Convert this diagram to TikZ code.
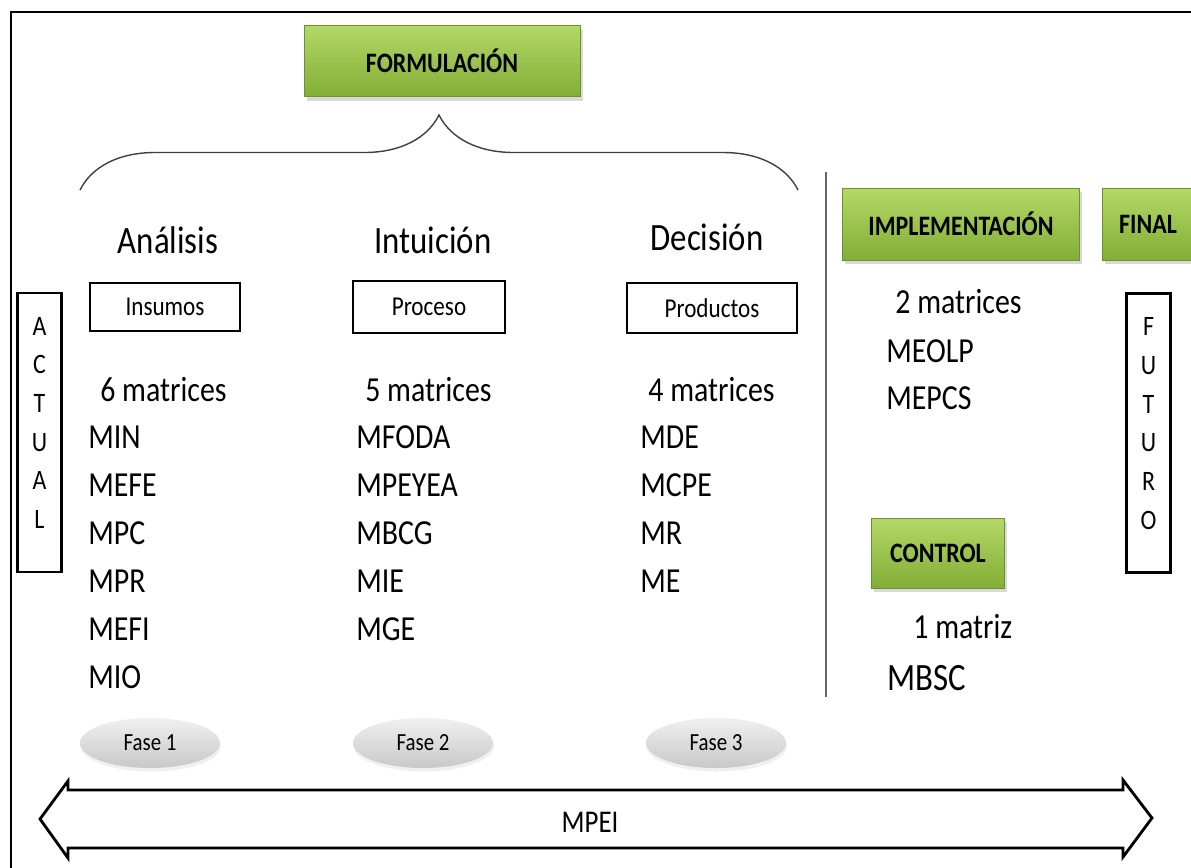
\documentclass[tikz,border=0pt]{standalone}
\usepackage{fontspec}
\setmainfont[FakeStretch=0.85]{Carlito}
\usetikzlibrary{shadows,shapes.geometric,decorations.pathreplacing}
\definecolor{verdearriba}{RGB}{180,216,104}
\definecolor{verdeabajo}{RGB}{130,174,54}
\definecolor{verdeborde}{RGB}{108,146,48}
\definecolor{grisarriba}{RGB}{240,240,240}
\definecolor{grisabajo}{RGB}{200,200,200}
\begin{document}
\begin{tikzpicture}[x=0.02cm,y=-0.02cm,
  etapa/.style={rectangle,draw=verdeborde,top color=verdearriba,bottom color=verdeabajo,
    drop shadow={opacity=0.3,shadow xshift=1.5pt,shadow yshift=-2.5pt},
    font=\fontsize{16}{19}\selectfont\bfseries},
  titulo/.style={font=\fontsize{22}{26}\selectfont},
  caja/.style={rectangle,draw,line width=1.6pt,font=\fontsize{15.5}{18}\selectfont},
  lista/.style={anchor=west,inner sep=0pt,font=\fontsize{20}{24}\selectfont},
  fase/.style={ellipse,top color=grisarriba,bottom color=grisabajo,
    minimum width=140*0.02cm,minimum height=50*0.02cm,
    drop shadow={opacity=0.12,shadow xshift=0.5pt,shadow yshift=-2pt},
    font=\fontsize{14}{17}\selectfont},
  lateral/.style={rectangle,draw,line width=1.6pt,align=center,text depth=11pt,
    minimum width=44*0.02cm,minimum height=279*0.02cm,
    font=\fontsize{16}{22}\selectfont}]
  \useasboundingbox (0,0) rectangle (1191,867);
  % marco
  \draw[line width=1.6pt] (11,880) -- (11,12) -- (1200,12);
  % formulacion
  \node[etapa,minimum width=276*0.02cm,minimum height=71*0.02cm] (formulacion) at (442,61) {FORMULACIÓN};
  \coordinate (llaveI) at (80,190);
  \coordinate (llaveD) at (798,190);
  \draw[black!75,line width=0.8pt,decorate,decoration={brace,amplitude=1.5cm}] (llaveI) -- (llaveD);
  % tres fases
  \node[titulo] (analisis) at (168,240) {Análisis};
  \node[titulo] (intuicion) at (433,240) {Intuición};
  \node[titulo] (decision) at (707,237) {Decisión};
  \node[caja,minimum width=150*0.02cm,minimum height=48*0.02cm] (insumos) at (165,307) {Insumos};
  \node[caja,minimum width=152*0.02cm,minimum height=52*0.02cm] (proceso) at (429,307) {Proceso};
  \node[caja,minimum width=170*0.02cm,minimum height=50*0.02cm] (productos) at (712,308) {Productos};
  \node[lista] (seis) at (100,390) {6 matrices};
  \node[lista] (cinco) at (365,390) {5 matrices};
  \node[lista] (cuatro) at (648,390) {4 matrices};
  \foreach \m [count=\i] in {MIN,MEFE,MPC,MPR,MEFI,MIO}
    \node[lista] (a\i) at (88,{437+48*(\i-1)}) {\m};
  \foreach \m [count=\i] in {MFODA,MPEYEA,MBCG,MIE,MGE}
    \node[lista] (b\i) at (356,{437+48*(\i-1)}) {\m};
  \foreach \m [count=\i] in {MDE,MCPE,MR,ME}
    \node[lista] (c\i) at (640,{437+48*(\i-1)}) {\m};
  \node[fase] (fase1) at (150,743) {Fase 1};
  \node[fase] (fase2) at (423,743) {Fase 2};
  \node[fase] (fase3) at (716,743) {Fase 3};
  % separador
  \coordinate (sepA) at (826,172);
  \coordinate (sepB) at (826,697);
  \draw[black!60,line width=0.6pt] (sepA) -- (sepB);
  % implementacion, control y final
  \node[etapa,minimum width=237*0.02cm,minimum height=72*0.02cm] (implementacion) at (961,224) {IMPLEMENTACIÓN};
  \node[etapa,minimum width=92*0.02cm,minimum height=72*0.02cm] (final) at (1148,224) {FINAL};
  \node[lista] (dos) at (895,302) {2 matrices};
  \node[lista] (meolp) at (886,351) {MEOLP};
  \node[lista] (mepcs) at (886,398) {MEPCS};
  \node[etapa,minimum width=133*0.02cm,minimum height=70*0.02cm] (control) at (938,553) {CONTROL};
  \node[lista] (uno) at (913,627) {1 matriz};
  \node[lista,font=\fontsize{22}{26}\selectfont] (mbsc) at (887,678) {MBSC};
  % actual y futuro
  \node[lateral] (actual) at (39.5,432.5) {A\\C\\T\\U\\A\\L};
  \node[lateral] (futuro) at (1148.5,433) {F\\U\\T\\U\\R\\O};
  % flecha MPEI
  \draw[line width=1.6pt,line join=miter] (40,819) -- (68,781) -- (68,790) -- (1123,790) -- (1123,780)
    -- (1152,818) -- (1123,857) -- (1123,848) -- (68,848) -- (68,858) -- cycle;
  \node[font=\fontsize{18}{21}\selectfont] (mpei) at (590,822) {MPEI};
\end{tikzpicture}
\end{document}
